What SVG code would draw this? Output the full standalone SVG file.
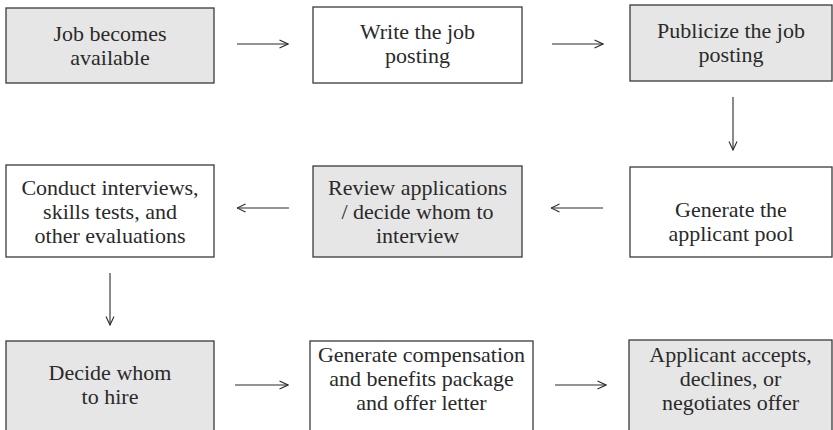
<svg xmlns="http://www.w3.org/2000/svg" width="833" height="430" viewBox="0 0 833 430" font-family="'Liberation Serif', 'DejaVu Serif', serif">
<defs>
<style>
.box{stroke:#3a3a3a;stroke-width:1.3}
.g{fill:#e6e6e6}
.w{fill:#ffffff}
.t{font-family:'Liberation Serif','DejaVu Serif',serif;font-size:22px;fill:#2a2a2a;text-anchor:middle}
.c line{stroke:#2a2a2a;stroke-width:1.1;marker-end:url(#ah)}
</style>
<marker id="ah" viewBox="0 0 10 10" refX="9.5" refY="5" markerWidth="10" markerHeight="10" markerUnits="userSpaceOnUse" orient="auto">
<path d="M1,1 L9.5,5 L1,9" fill="none" stroke="#2a2a2a" stroke-width="1.1"/>
</marker>
</defs>
<rect width="833" height="430" fill="#ffffff"/>
<g id="n1"><rect class="box g" x="6" y="8" width="208" height="75"/><text class="t" x="110" y="41">Job becomes</text><text class="t" x="110" y="65">available</text></g>
<g id="n2"><rect class="box w" x="313" y="7" width="209" height="76"/><text class="t" x="417.5" y="39">Write the job</text><text class="t" x="417.5" y="63">posting</text></g>
<g id="n3"><rect class="box g" x="630" y="5" width="202" height="76"/><text class="t" x="731" y="38">Publicize the job</text><text class="t" x="731" y="62">posting</text></g>
<g id="n4"><rect class="box w" x="630" y="167" width="202" height="90"/><text class="t" x="731" y="217">Generate the</text><text class="t" x="731" y="241">applicant pool</text></g>
<g id="n5"><rect class="box g" x="313" y="166" width="209" height="91"/><text class="t" x="417.5" y="195">Review applications</text><text class="t" x="417.5" y="219">/ decide whom to</text><text class="t" x="417.5" y="243">interview</text></g>
<g id="n6"><rect class="box w" x="6" y="165" width="208" height="92"/><text class="t" x="110" y="195">Conduct interviews,</text><text class="t" x="110" y="219">skills tests, and</text><text class="t" x="110" y="243">other evaluations</text></g>
<g id="n7"><rect class="box g" x="6" y="341" width="208" height="95"/><text class="t" x="110" y="380">Decide whom</text><text class="t" x="110" y="404">to hire</text></g>
<g id="n8"><rect class="box w" x="310" y="341" width="223" height="95"/><text class="t" x="421.5" y="362">Generate compensation</text><text class="t" x="421.5" y="386">and benefits package</text><text class="t" x="421.5" y="410">and offer letter</text></g>
<g id="n9"><rect class="box g" x="629" y="340" width="203" height="96"/><text class="t" x="730.5" y="362">Applicant accepts,</text><text class="t" x="730.5" y="386">declines, or</text><text class="t" x="730.5" y="410">negotiates offer</text></g>
<g id="connectors" class="c">
<line x1="237" y1="44" x2="288" y2="44"/>
<line x1="552" y1="44" x2="603" y2="44"/>
<line x1="733" y1="97" x2="733" y2="150"/>
<line x1="603" y1="208" x2="551" y2="208"/>
<line x1="289" y1="208" x2="237" y2="208"/>
<line x1="110" y1="273" x2="110" y2="325"/>
<line x1="235" y1="385" x2="288" y2="385"/>
<line x1="555" y1="385" x2="606" y2="385"/>
</g>
</svg>
